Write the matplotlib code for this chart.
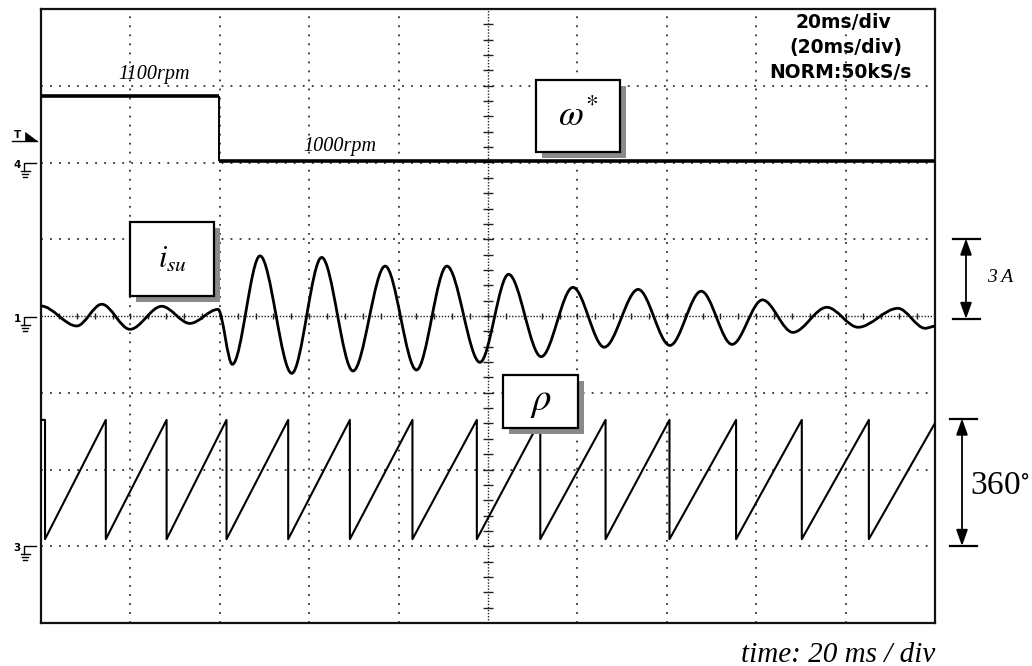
import numpy as np
import matplotlib.pyplot as plt
from matplotlib.path import Path
from matplotlib.patches import PathPatch, Rectangle, Polygon

plt.rcParams['mathtext.fontset'] = 'stix'

SERIF = 'Liberation Serif'

# time base: 20 ms/div, 10 divisions
t_end = 200.0

# speed reference (rpm), step at t = 39.8 ms
speed_step_t = 39.8
speed_levels = [1100, 1000]

# phase current i_su (A): peaks / troughs of the trace
isu_t = [0.0, 8.0, 13.6, 19.9, 27.0, 33.3, 39.6, 42.8, 49.0, 56.1, 62.8,
         69.8, 77.0, 84.0, 90.8, 98.2, 104.6, 111.9, 119.0, 126.0, 133.6,
         140.7, 147.7, 154.6, 161.4, 168.2, 175.8, 182.8, 191.7, 197.8, 200.0]
isu_a = [0.39, -0.39, 0.46, -0.52, 0.38, -0.29, 0.26, -1.89, 2.35, -2.24, 2.29,
         -2.15, 1.95, -2.11, 1.95, -1.81, 1.63, -1.59, 1.12, -1.22, 1.04,
         -1.15, 0.97, -1.11, 0.63, -0.64, 0.34, -0.44, 0.30, -0.48, -0.40]

# rotor angle rho (deg): wrap-around instants of the sawtooth
rho_drop_t = [0.9, 14.5, 28.1, 41.5, 55.3, 69.1, 83.1, 97.5, 111.7, 126.3,
              140.6, 155.5, 170.2, 185.2]
rho_low, rho_high, rho_last = 20.0, 357.0, 348.0


# screen positions of each channel (in divisions, 0 at the bottom)
def speed_div(rpm):
    return 6.02 + (np.asarray(rpm) - 1000) * 0.0085


def cur_div(a):
    return 4 + np.asarray(a) / 3.0        # 3 A/div


def ang_div(deg):
    return 1 + np.asarray(deg) / 360.0 * 1.66


def smooth_path(t, v):
    # cubic segments with flat tangents at every peak / trough
    verts = [(t[0], v[0])]
    codes = [Path.MOVETO]
    for t0, v0, t1, v1 in zip(t[:-1], v[:-1], t[1:], v[1:]):
        dt = (t1 - t0) / 3.0
        verts += [(t0 + dt, v0), (t1 - dt, v1), (t1, v1)]
        codes += [Path.CURVE4] * 3
    return Path(verts, codes)


fig = plt.figure(figsize=(10.32, 6.66), dpi=100)
W, H = 1032, 666
x0, x1, y0, y1 = 41, 935, 9, 623
ax = fig.add_axes([x0 / W, (H - y1) / H, (x1 - x0) / W, (y1 - y0) / H])
ax.set_xlim(0, t_end)
ax.set_ylim(0, 8)
ax.set_xticks([])
ax.set_yticks([])
for s in ax.spines.values():
    s.set_linewidth(1.6)
    s.set_color('#111111')

# graticule
dot = dict(color='#333333', lw=1.3, ls=(0, (1, 4)), zorder=1)
for k in range(1, 8):
    if k != 4:
        ax.axhline(k, **dot)
for k in range(1, 10):
    if k != 5:
        ax.axvline(k * 20, **dot)
fine = dict(color='#222222', lw=1.0, ls=(0, (1, 1.2)), zorder=1)
ax.axhline(4, **fine)
ax.axvline(100, **fine)
tx = np.arange(4, t_end, 4)
ax.plot(tx, np.full(len(tx), 4.0), ls='none', marker='|', ms=5, mew=1.0,
        color='#222222', zorder=1)
ty = np.arange(0.2, 8, 0.2)
ax.plot(np.full(len(ty), 100.0), ty, ls='none', marker='_', ms=7.5, mew=1.0,
        color='#222222', zorder=1)

# channel 4: speed reference
ax.hlines(speed_div(speed_levels[0]), 0, speed_step_t, color='k', lw=2.6, zorder=3)
ax.hlines(speed_div(speed_levels[1]), speed_step_t, t_end, color='k', lw=2.6, zorder=3)
ax.vlines(speed_step_t, speed_div(speed_levels[1]), speed_div(speed_levels[0]),
          color='k', lw=1.4, zorder=3)

# channel 1: phase current
ax.add_patch(PathPatch(smooth_path(isu_t, cur_div(isu_a)), fill=False,
                       edgecolor='k', lw=2.0, joinstyle='round', zorder=3))

# channel 3: rotor angle sawtooth
rt, rv = [0.0], [rho_high]
for td in rho_drop_t:
    rt += [td, td]
    rv += [rho_high, rho_low]
rt.append(t_end)
rv.append(rho_last)
ax.plot(rt, ang_div(rv), color='k', lw=1.5, zorder=3)

# overlay in pixel coordinates for labels and markers
ov = fig.add_axes([0, 0, 1, 1], facecolor='none')
ov.set_xlim(0, W)
ov.set_ylim(H, 0)
ov.axis('off')

ov.text(154, 75, '1100rpm', family=SERIF, style='italic', fontsize=14.5,
        ha='center', va='center')
ov.text(340, 147, '1000rpm', family=SERIF, style='italic', fontsize=14.5,
        ha='center', va='center')

for txt, xx, yy in [('20ms/div', 843, 23), ('(20ms/div)', 846, 48),
                    ('NORM:50kS/s', 840, 72)]:
    ov.text(xx, yy, txt, family='DejaVu Sans', weight='bold', fontsize=13.5,
            ha='center', va='center')


def label_box(xa, ya, xb, yb, txt, size):
    ov.add_patch(Rectangle((xa + 6, ya + 6), xb - xa, yb - ya,
                           facecolor='#8a8a8a', edgecolor='none', zorder=4))
    ov.add_patch(Rectangle((xa, ya), xb - xa, yb - ya, facecolor='white',
                           edgecolor='k', lw=1.6, zorder=5))
    ov.text((xa + xb) / 2, (ya + yb) / 2, txt, fontsize=size, ha='center',
            va='center', zorder=6)


label_box(536, 80, 620, 152, r'$\omega^{*}$', 26)
label_box(130, 222, 214, 296, r'$i_{su}$', 22)
label_box(503, 375, 578, 428, r'$\rho$', 28)


def ground(num, y):
    ov.text(17, y + 2, num, family='DejaVu Sans', weight='bold', fontsize=7.5,
            ha='center', va='center')
    ov.plot([36, 24, 24], [y, y, y + 8], color='k', lw=1.0)
    for dy, hw in [(8, 4.5), (11, 3.2), (14, 1.8)]:
        ov.plot([25 - hw, 25 + hw], [y + dy, y + dy], color='k', lw=1.0)


ground('4', 162.5)
ground('1', 316.7)
ground('3', 546)

# trigger marker
ov.text(18, 135, 'T', family='DejaVu Sans', weight='bold', fontsize=7.5,
        ha='center', va='center')
ov.plot([12, 37], [141, 141], color='k', lw=1.0)
ov.add_patch(Polygon([(25, 132), (25, 141), (37, 141)], closed=True,
                     facecolor='k', edgecolor='k', lw=0.5))


def scale_bar(x, ya, yb, xa, xb):
    ov.plot([xa, xb], [ya, ya], color='k', lw=1.6)
    ov.plot([xa, xb], [yb, yb], color='k', lw=1.6)
    ov.annotate('', xy=(x, ya), xytext=(x, yb),
                arrowprops=dict(arrowstyle='<|-|>,head_length=0.7,head_width=0.25',
                                color='k', lw=1.3, shrinkA=0, shrinkB=0,
                                mutation_scale=14))


scale_bar(966, 238.5, 319, 953, 980)
ov.text(1000, 277, '3 A', family=SERIF, style='italic', fontsize=14,
        ha='center', va='center')
scale_bar(962, 418.5, 546, 950, 977)
ov.text(970, 486, '360$^{\\circ}$', family=SERIF, fontsize=24,
        ha='left', va='center')

ov.text(935, 655, 'time: 20 ms / div', family=SERIF, style='italic',
        fontsize=21, ha='right', va='center')

fig.savefig('out.png', dpi=100)
